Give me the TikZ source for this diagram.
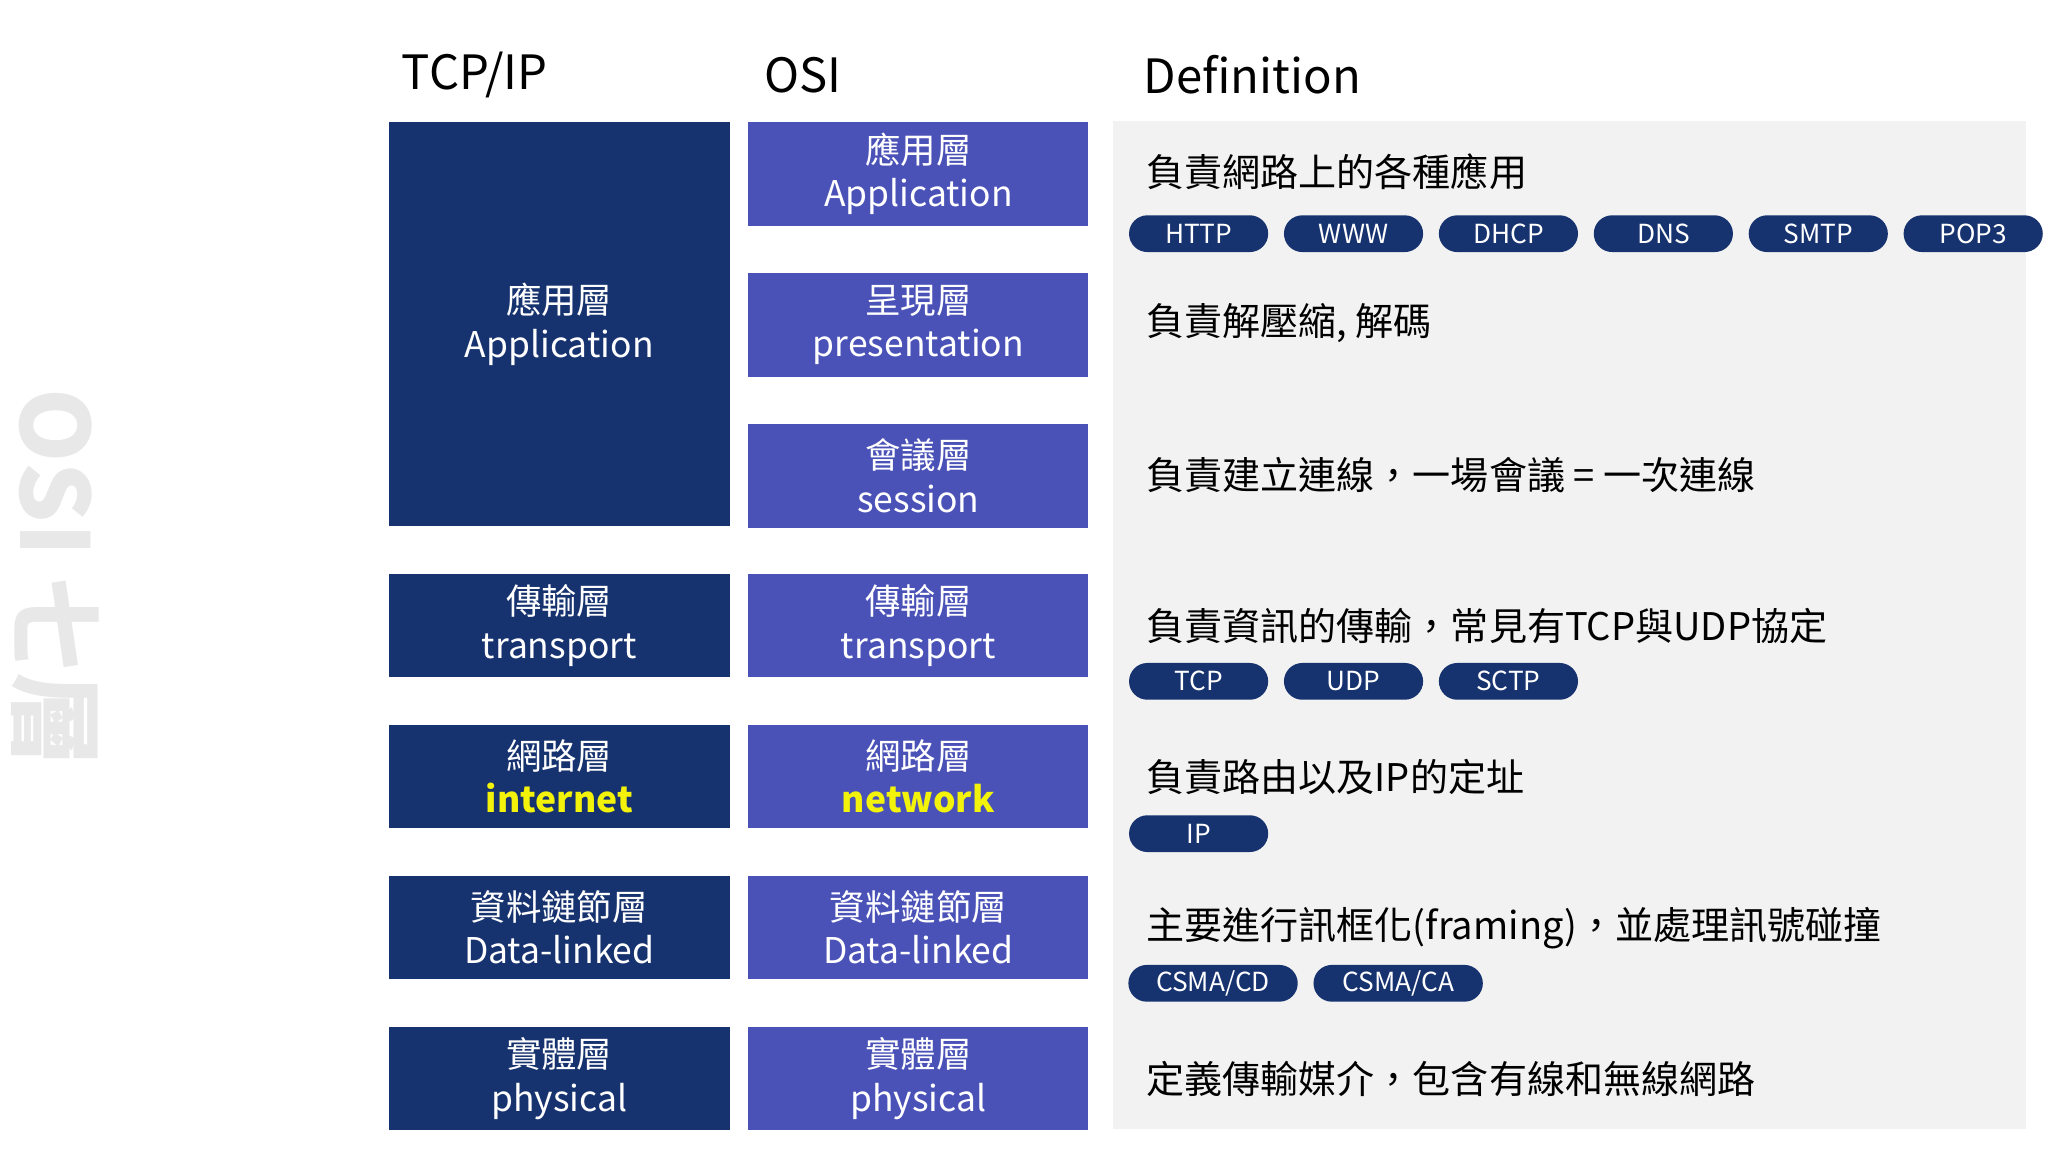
\documentclass[tikz,border=0pt]{standalone}
\usepackage{fontspec}
\setmainfont{Noto Sans CJK TC}
\definecolor{navy}{HTML}{17336F}
\definecolor{osib}{HTML}{4A52B8}
\definecolor{panel}{HTML}{F2F2F2}
\definecolor{yel}{HTML}{F2F20A}
\begin{document}
\begin{tikzpicture}[x=1pt,y=-1pt,
  tcp/.style={fill=navy,draw=none,text=white,align=center,font=\fontsize{27}{33}\selectfont,inner sep=0},
  osi/.style={fill=osib,draw=none,text=white,align=center,font=\fontsize{27}{33}\selectfont,inner sep=0},
  pill/.style={fill=navy,rounded corners=14pt,text=white,minimum height=28pt,minimum width=106pt,inner sep=0,font=\fontsize{20}{22}\selectfont},
  defn/.style={anchor=west,font=\fontsize{29}{32}\selectfont,inner sep=0},
  hdr/.style={anchor=west,font=\fontsize{36}{40}\selectfont,inner sep=0}]
\useasboundingbox (0,0) rectangle (1560,877.5);
\fill[white] (0,0) rectangle (1560,877.5);
\node[rotate=-90,text=black!9,font=\fontsize{72}{76}\selectfont\bfseries] (side) at (42,440) {OSI 七層};
\node[hdr] (h1) at (306,57) {TCP/IP};
\node[hdr] (h2) at (582,57) {OSI};
\node[hdr] (h3) at (871,57) {Definition};
\fill[panel] (848,92) rectangle (1543,860);
% TCP/IP
\node[tcp,minimum width=260pt,minimum height=308pt] (t1) at (426,247) {應用層\\Application};
\node[tcp,minimum width=260pt,minimum height=79pt] (t2) at (426,476.5) {傳輸層\\transport};
\node[tcp,minimum width=260pt,minimum height=79pt] (t3) at (426,591.5) {網路層\\\textcolor{yel}{\bfseries internet}};
\node[tcp,minimum width=260pt,minimum height=79pt] (t4) at (426,706.5) {資料鏈節層\\Data-linked};
\node[tcp,minimum width=260pt,minimum height=79pt] (t5) at (426,821.5) {實體層\\physical};
% OSI
\foreach \n/\y/\t in {o1/132.5/{應用層\\Application},o2/247.5/{呈現層\\presentation},o3/362.5/{會議層\\session},o4/476.5/{傳輸層\\transport},o5/591.5/{網路層\\\textcolor{yel}{\bfseries network}},o6/706.5/{資料鏈節層\\Data-linked},o7/821.5/{實體層\\physical}}
  \node[osi,minimum width=259pt,minimum height=79pt] (\n) at (699.5,\y) {\t};
% Definitions
\node[defn] (d1) at (873,131) {負責網路上的各種應用};
\node[defn] (d2) at (873,246) {負責解壓縮, 解碼};
\node[defn] (d3) at (873,362) {負責建立連線，一場會議 = 一次連線};
\node[defn] (d4) at (873,477) {負責資訊的傳輸，常見有TCP與UDP協定};
\node[defn] (d5) at (873,592) {負責路由以及IP的定址};
\node[defn] (d6) at (873,707) {主要進行訊框化(framing)，並處理訊號碰撞};
\node[defn] (d7) at (873,822) {定義傳輸媒介，包含有線和無線網路};
% pills
\foreach \n/\x/\t in {p1/913/HTTP,p2/1031/WWW,p3/1149/DHCP,p4/1267/DNS,p5/1385/SMTP,p6/1503/POP3}
  \node[pill] (\n) at (\x,178) {\t};
\foreach \n/\x/\t in {q1/913/TCP,q2/1031/UDP,q3/1149/SCTP}
  \node[pill] (\n) at (\x,519) {\t};
\node[pill] (r1) at (913,635) {IP};
\node[pill,minimum width=129pt] (s1) at (924,749) {CSMA/CD};
\node[pill,minimum width=129pt] (s2) at (1065,749) {CSMA/CA};
\end{tikzpicture}
\end{document}
